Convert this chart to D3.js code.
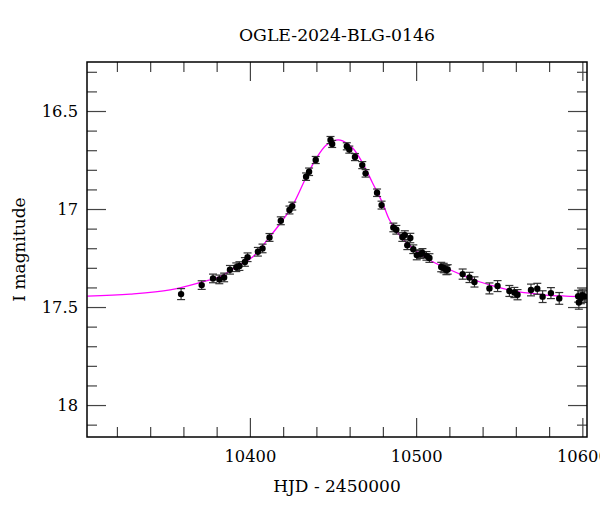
<!DOCTYPE html>
<html><head><meta charset="utf-8">
<script src="https://cdn.jsdelivr.net/npm/d3@7"></script>
<style>
html,body{margin:0;padding:0;background:#fff;}
svg text{font-family:"DejaVu Serif",serif;fill:#000;}
</style></head>
<body>
<svg id="chart" width="600" height="512"></svg>
<script>
const title = "OGLE-2024-BLG-0146";
const xLabel = "HJD - 2450000";
const yLabel = "I magnitude";

// observations: time (HJD-2450000), magnitude, error
const obsT = [10358.6,10371.0,10377.8,10381.6,10384.5,10388.0,10391.8,10393.7,10397.0,10398.6,
  10404.8,10407.6,10411.8,10418.6,10423.8,10425.5,10433.8,10435.6,10439.6,10448.5,
  10449.5,10458.3,10459.8,10463.2,10467.6,10469.6,10476.5,10479.2,10486.3,10488.1,
  10491.7,10493.2,10496.5,10494.7,10498.3,10500.4,10502.5,10503.8,10506.2,10508.0,
  10515.1,10516.6,10518.2,10519.0,10528.0,10532.1,10535.1,10544.1,10549.0,10556.1,
  10559.1,10561.0,10569.1,10572.9,10576.1,10581.1,10586.1,10597.5,10597.9,10600.1,
  10599.1,10601.5];
const obsMag = [17.434,17.388,17.354,17.359,17.349,17.310,17.297,17.291,17.270,17.246,
  17.218,17.201,17.145,17.060,17.005,16.985,16.835,16.810,16.750,16.648,
  16.668,16.680,16.697,16.735,16.776,16.818,16.917,16.980,17.094,17.106,
  17.143,17.133,17.148,17.185,17.205,17.235,17.230,17.224,17.239,17.250,
  17.296,17.301,17.311,17.308,17.332,17.349,17.372,17.405,17.393,17.418,
  17.426,17.437,17.413,17.407,17.447,17.429,17.456,17.445,17.477,17.439,
  17.453,17.447];
const obsErr = [0.028,0.022,0.022,0.022,0.022,0.022,0.022,0.022,0.022,0.022,
  0.022,0.022,0.020,0.020,0.020,0.020,0.019,0.019,0.018,0.018,
  0.018,0.018,0.018,0.018,0.018,0.019,0.019,0.020,0.022,0.022,
  0.022,0.022,0.024,0.022,0.022,0.024,0.022,0.022,0.022,0.022,
  0.024,0.024,0.024,0.024,0.026,0.026,0.026,0.028,0.028,0.028,
  0.026,0.026,0.030,0.028,0.030,0.028,0.030,0.030,0.034,0.030,
  0.030,0.030];

// model curve
const modelT = [10302.2,10328,10352,10371.8,10382,10392,10401.8,10412,10419.8,10425.8,
  10434,10440,10446,10452,10455.8,10461.8,10467.8,10473.8,10479.8,10484,
  10490,10497.8,10508,10518,10527.8,10538,10548,10557.9,10568,10578,10590,10602.8];
const modelMag = [17.444,17.434,17.413,17.371,17.345,17.294,17.243,17.141,17.056,16.980,
  16.835,16.740,16.673,16.648,16.652,16.689,16.765,16.867,16.969,17.056,
  17.133,17.199,17.260,17.301,17.337,17.371,17.396,17.418,17.429,17.439,17.444,17.447];

const xMajor = [10400,10500,10600];
const xMinor = [10320,10340,10360,10380,10420,10440,10460,10480,10520,10540,10560,10580];
const yMajor = [16.5,17,17.5,18];
const yMinor = [16.3,16.4,16.6,16.7,16.8,16.9,17.1,17.2,17.3,17.4,17.6,17.7,17.8,17.9,18.1];

const L = 87, R = 587, T = 62, B = 437;
const svg = d3.select("#chart");
const x = d3.scaleLinear().domain([10302, 10602.8]).range([L, R]);
const y = d3.scaleLinear().domain([16.25, 18.163]).range([T, B]);

const tickCol = "#444";
function styleAxis(g){
  g.select(".domain").remove();
  g.selectAll(".tick line").attr("stroke", tickCol).attr("stroke-width", 1.2);
  g.selectAll("text").attr("font-size", 16.3).attr("font-family", '"DejaVu Serif",serif');
}
// major ticks
svg.append("g").attr("transform",`translate(0,${B})`)
  .call(d3.axisBottom(x).tickValues(xMajor).tickSize(-19).tickPadding(13).tickFormat(d3.format("d"))).call(styleAxis);
svg.append("g").attr("transform",`translate(0,${T})`)
  .call(d3.axisTop(x).tickValues(xMajor).tickSize(-19).tickFormat("")).call(styleAxis);
svg.append("g").attr("transform",`translate(${L},0)`)
  .call(d3.axisLeft(y).tickValues(yMajor).tickSize(-19).tickPadding(9).tickFormat(d => String(d))).call(styleAxis);
svg.append("g").attr("transform",`translate(${R},0)`)
  .call(d3.axisRight(y).tickValues(yMajor).tickSize(-19).tickFormat("")).call(styleAxis);
// minor ticks
svg.append("g").attr("transform",`translate(0,${B})`)
  .call(d3.axisBottom(x).tickValues(xMinor).tickSize(-10).tickFormat("")).call(styleAxis);
svg.append("g").attr("transform",`translate(0,${T})`)
  .call(d3.axisTop(x).tickValues(xMinor).tickSize(-10).tickFormat("")).call(styleAxis);
svg.append("g").attr("transform",`translate(${L},0)`)
  .call(d3.axisLeft(y).tickValues(yMinor).tickSize(-10).tickFormat("")).call(styleAxis);
svg.append("g").attr("transform",`translate(${R},0)`)
  .call(d3.axisRight(y).tickValues(yMinor).tickSize(-10).tickFormat("")).call(styleAxis);

// clip
svg.append("clipPath").attr("id","clip").append("rect")
  .attr("x",L).attr("y",T).attr("width",R-L).attr("height",B-T);

// model line
const model = modelT.map((t,i)=>({t, m:modelMag[i]}));
svg.append("path").datum(model)
  .attr("clip-path","url(#clip)")
  .attr("fill","none").attr("stroke","#ff00ff").attr("stroke-width",1.3)
  .attr("d", d3.line().x(d=>x(d.t)).y(d=>y(d.m)).curve(d3.curveCatmullRom.alpha(0.5)));

// observations
const obs = obsT.map((t,i)=>({t, m:obsMag[i], e:obsErr[i]}));
const gObs = svg.append("g").attr("clip-path","url(#clip)");
const eb = gObs.selectAll("g.eb").data(obs).join("g").attr("class","eb")
  .attr("stroke","#333").attr("stroke-width",1.2);
eb.append("line").attr("x1",d=>x(d.t)).attr("x2",d=>x(d.t))
  .attr("y1",d=>y(d.m-d.e)).attr("y2",d=>y(d.m+d.e));
eb.append("line").attr("x1",d=>x(d.t)-4).attr("x2",d=>x(d.t)+4)
  .attr("y1",d=>y(d.m-d.e)).attr("y2",d=>y(d.m-d.e));
eb.append("line").attr("x1",d=>x(d.t)-4).attr("x2",d=>x(d.t)+4)
  .attr("y1",d=>y(d.m+d.e)).attr("y2",d=>y(d.m+d.e));
gObs.selectAll("circle").data(obs).join("circle")
  .attr("cx",d=>x(d.t)).attr("cy",d=>y(d.m)).attr("r",3.2).attr("fill","#000");

// frame
svg.append("rect").attr("x",L).attr("y",T).attr("width",R-L).attr("height",B-T)
  .attr("fill","none").attr("stroke","#000").attr("stroke-width",1.5);

// labels
svg.append("text").attr("x",(L+R)/2).attr("y",41).attr("text-anchor","middle")
  .attr("font-size",17.3).text(title);
svg.append("text").attr("x",(L+R)/2).attr("y",492).attr("text-anchor","middle")
  .attr("font-size",17).text(xLabel);
svg.append("text").attr("transform",`translate(25,${(T+B)/2}) rotate(-90)`)
  .attr("text-anchor","middle").attr("font-size",17).text(yLabel);
</script>
</body></html>
